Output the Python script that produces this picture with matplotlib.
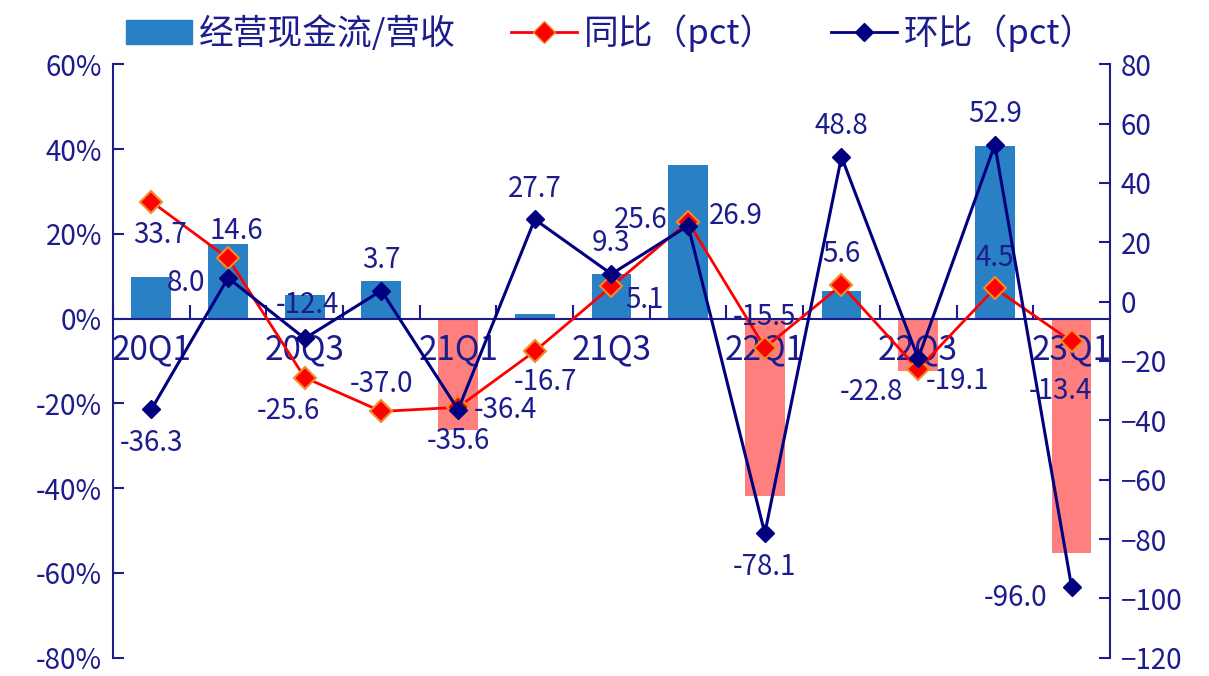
import numpy as np
import matplotlib
matplotlib.use("Agg")
from matplotlib import pyplot as plt
from matplotlib.patches import Patch
from matplotlib.lines import Line2D

plt.rcParams['font.family'] = ['Noto Sans CJK SC', 'DejaVu Sans']

quarters = ['20Q1', '20Q2', '20Q3', '20Q4', '21Q1', '21Q2', '21Q3',
            '21Q4', '22Q1', '22Q2', '22Q3', '22Q4', '23Q1']
cash_ratio = [9.8, 17.7, 5.6, 8.8, -26.3, 1.0, 10.5,
              36.3, -41.9, 6.5, -12.3, 40.7, -55.3]
yoy = [33.7, 14.6, -25.6, -37.0, -35.6, -16.7, 5.1,
       26.9, -15.5, 5.6, -22.8, 4.5, -13.4]
qoq = [-36.3, 8.0, -12.4, 3.7, -36.4, 27.7, 9.3,
       25.6, -78.1, 48.8, -19.1, 52.9, -96.0]

# label offsets in points (dx, dy)
yoy_off = [(6, -24), (6, 20), (-12, -24), (0, 20), (0, -24), (8, -22), (24, -10),
           (34, 4), (0, 22), (0, 22), (-34, -16), (0, 22), (-8, -36)]
qoq_off = [(0, -24), (-30, -4), (2, 24), (0, 22), (34, 0), (0, 22), (0, 22),
           (-34, 4), (0, -24), (0, 22), (28, -16), (0, 22), (-40, -8)]

navy = '#1c1c8c'
blue = '#2a80c4'
salmon = '#ff7f7f'

fig = plt.figure(figsize=(12.09, 6.76), dpi=100)
ax = fig.add_axes([0.0935, 0.027, 0.8245, 0.878])
ax2 = ax.twinx()

x = np.arange(len(quarters))
colors = [blue if v >= 0 else salmon for v in cash_ratio]
ax.bar(x, cash_ratio, width=0.52, color=colors, zorder=1)
ax.set_axisbelow(False)

ax.set_xlim(-0.5, len(quarters) - 0.5)
ax.set_ylim(-80, 60)
ax.set_yticks(np.arange(-80, 61, 20))
ax.set_yticklabels([f'{v}%' for v in range(-80, 61, 20)])
ax.spines['bottom'].set_position(('data', 0))
ax.spines['top'].set_visible(False)
ax.spines['right'].set_visible(False)
for s in ['left', 'bottom']:
    ax.spines[s].set_color(navy)
    ax.spines[s].set_linewidth(1.5)
ax.set_xticks(x[::2])
ax.set_xticklabels(quarters[::2])
ax.set_xticks(np.arange(-0.5, len(quarters), 1), minor=True)
ax.tick_params(axis='x', which='major', length=0, pad=10, labelsize=24, labelcolor=navy)
ax.tick_params(axis='x', which='minor', direction='in', length=10, color=navy, width=1.5)
ax.tick_params(axis='y', direction='in', length=8, color=navy, width=1.5,
               labelsize=20, labelcolor=navy, pad=8)

ax2.plot(x, yoy, color='red', lw=2, marker='D', ms=11, mfc='red',
         mec='#f28c28', mew=1.5, zorder=3)
ax2.plot(x, qoq, color='#000080', lw=2.2, marker='D', ms=9, mfc='#000080',
         mec='#000080', zorder=4)
ax2.set_ylim(-120, 80)
ax2.set_yticks(np.arange(-120, 81, 20))
for s in ['top', 'left', 'bottom']:
    ax2.spines[s].set_visible(False)
ax2.spines['right'].set_color(navy)
ax2.spines['right'].set_linewidth(1.5)
ax2.tick_params(axis='y', direction='in', length=8, color=navy, width=1.5,
                labelsize=20, labelcolor=navy, pad=8)

for i in range(len(quarters)):
    ax2.annotate(f'{yoy[i]:.1f}', (x[i], yoy[i]), xytext=yoy_off[i],
                 textcoords='offset points', ha='center', va='center',
                 fontsize=20, color=navy, zorder=5)
    ax2.annotate(f'{qoq[i]:.1f}', (x[i], qoq[i]), xytext=qoq_off[i],
                 textcoords='offset points', ha='center', va='center',
                 fontsize=20, color=navy, zorder=5)

handles = [Patch(color=blue),
           Line2D([], [], color='red', lw=2, marker='D', ms=11, mfc='red', mec='#f28c28'),
           Line2D([], [], color='#000080', lw=2, marker='D', ms=9, mfc='#000080')]
labels = ['经营现金流/营收', '同比（pct）', '环比（pct）']
leg = fig.legend(handles, labels, loc='upper center', bbox_to_anchor=(0.505, 1.025),
                 ncol=3, frameon=False, fontsize=25, handlelength=1.9,
                 columnspacing=1.6, handletextpad=0.2)
for t in leg.get_texts():
    t.set_color(navy)

fig.savefig('out.png', dpi=100)
